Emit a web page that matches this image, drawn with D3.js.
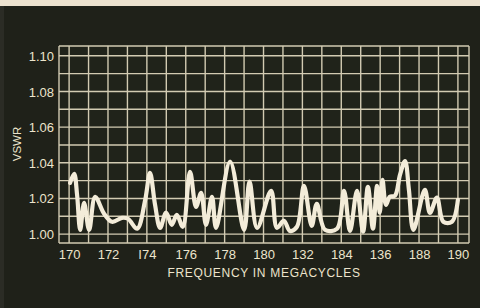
<!DOCTYPE html>
<html><head><meta charset="utf-8">
<script src="https://cdn.jsdelivr.net/npm/d3@7"></script>
<style>
html,body{margin:0;padding:0;background:#1f2119;}
svg{display:block;}
</style></head>
<body>
<svg id="c" width="480" height="308"></svg>
<script>
// Data
const freq = [170.05,170.26,170.41,170.57,170.77,171.03,171.34,171.80,172.21,172.72,173.03,173.50,173.91,174.16,174.42,174.68,174.99,175.28,175.54,175.85,176.22,176.53,176.79,177.04,177.35,177.56,178.28,179.00,179.28,179.67,180.39,180.69,181.05,181.36,181.72,182.08,182.48,182.74,183.16,183.78,184.14,184.45,184.81,185.12,185.37,185.63,185.84,185.98,186.12,186.30,186.50,186.76,187.02,187.28,187.48,187.71,188.30,188.56,188.92,189.25,189.69,190.00];
const vswr = [1.0287,1.0338,1.0220,1.0024,1.0175,1.0024,1.0209,1.0114,1.0069,1.0091,1.0086,1.0030,1.0190,1.0343,1.0165,1.0035,1.0120,1.0052,1.0108,1.0041,1.0349,1.0153,1.0231,1.0052,1.0209,1.0035,1.0407,1.0024,1.0295,1.0035,1.0243,1.0035,1.0075,1.0018,1.0041,1.0271,1.0046,1.0170,1.0024,1.0030,1.0243,1.0018,1.0243,1.0013,1.0265,1.0030,1.0270,1.0120,1.0304,1.0164,1.0210,1.0215,1.0332,1.0410,1.0248,1.0024,1.0248,1.0119,1.0204,1.0069,1.0069,1.0192];
const xTickValues = [170,172,174,176,178,180,182,184,186,188,190];
const xTickLabels = ["170","172","I74","176","178","180","132","184","136","188","190"];
const yTickValues = [1.00,1.02,1.04,1.06,1.08,1.10];
const yTickLabels = ["1.00","1.02","1.04","1.06","1.08","1.10"];
const xTitle = "FREQUENCY IN MEGACYCLES";
const yTitle = "VSWR";

const svg = d3.select("#c");
const W = 480, H = 308;
const ink = "#ece4cc";
const gridCol = "#d2cbb2";
const font = "Liberation Sans, Arial, sans-serif";

// backdrop
svg.append("rect").attr("width",W).attr("height",H).attr("fill","#1f2119");
svg.append("rect").attr("width",W).attr("height",6).attr("fill","#ece2cf");
svg.append("rect").attr("x",0).attr("y",6).attr("width",4).attr("height",H-6).attr("fill","#2b2c25");

const x = d3.scaleLinear().domain([169.48,190.57]).range([59,469]);
const y = d3.scaleLinear().domain([0.995,1.1055]).range([243,46]);

const g = svg.append("g");
g.append("rect").attr("x",x(169.48)).attr("y",y(1.1055))
  .attr("width",x(190.57)-x(169.48)).attr("height",y(0.995)-y(1.1055))
  .attr("fill","#20231a");

// grid
const vLines = d3.range(170,191,1).concat([169.48,190.57]);
g.selectAll("line.v").data(vLines).join("line").attr("class","v")
  .attr("x1",d=>x(d)).attr("x2",d=>x(d)).attr("y1",y(1.1055)).attr("y2",y(0.995))
  .attr("stroke",gridCol).attr("stroke-width",1.4);
const hLines = d3.range(0,11).map(i=>1+i*0.01).concat([0.995,1.1055]);
g.selectAll("line.h").data(hLines).join("line").attr("class","h")
  .attr("y1",d=>y(d)).attr("y2",d=>y(d)).attr("x1",x(169.48)).attr("x2",x(190.57))
  .attr("stroke",gridCol).attr("stroke-width",1.4);

// axes labels
const xAxis = d3.axisBottom(x).tickValues(xTickValues)
  .tickFormat((d,i)=>xTickLabels[i]).tickSize(0).tickPadding(0);
const xa = svg.append("g").attr("transform","translate(0,258.5)").call(xAxis);
xa.select(".domain").remove();
xa.selectAll("text").attr("fill",ink).attr("font-size","13px")
  .attr("font-family",font).attr("dy","0");

const yAxis = d3.axisLeft(y).tickValues(yTickValues)
  .tickFormat((d,i)=>yTickLabels[i]).tickSize(0).tickPadding(0);
const ya = svg.append("g").attr("transform","translate(54,0)").call(yAxis);
ya.select(".domain").remove();
ya.selectAll("text").attr("fill",ink).attr("font-size","13px")
  .attr("font-family",font).attr("dy","0.35em");

svg.append("text").attr("x",264).attr("y",276.5).attr("text-anchor","middle")
  .attr("fill",ink).attr("font-size","12px").attr("letter-spacing","0.7px")
  .attr("font-family",font).text(xTitle);
svg.append("text").attr("transform","translate(21,144) rotate(-90)").attr("text-anchor","middle")
  .attr("fill",ink).attr("font-size","11.5px")
  .attr("font-family",font).text(yTitle);

// curve
const pts = freq.map((f,i)=>[f,vswr[i]]);
const line = d3.line().x(d=>x(d[0])).y(d=>y(d[1])).curve(d3.curveCatmullRom.alpha(0.5));
g.append("path").attr("d",line(pts)).attr("fill","none")
  .attr("stroke","#f3ecd9").attr("stroke-width",4.2)
  .attr("stroke-linejoin","round").attr("stroke-linecap","round");
</script>
</body></html>
